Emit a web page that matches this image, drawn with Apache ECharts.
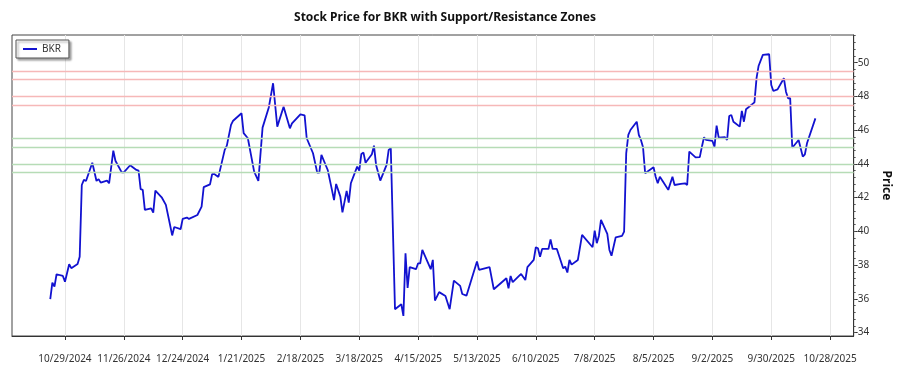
<!DOCTYPE html>
<html><head><meta charset="utf-8">
<script src="https://cdn.jsdelivr.net/npm/echarts@6/dist/echarts.min.js"></script>
<style>html,body{margin:0;padding:0;background:#fff}#c{width:900px;height:375px}</style>
</head><body><div id="c"></div>
<script>
const dates = [
'2024-10-22','2024-10-23','2024-10-24','2024-10-25','2024-10-28','2024-10-29','2024-10-31','2024-11-01','2024-11-04','2024-11-05',
'2024-11-06','2024-11-07','2024-11-08','2024-11-11','2024-11-13','2024-11-14','2024-11-15','2024-11-18','2024-11-19','2024-11-21',
'2024-11-22','2024-11-25','2024-11-26','2024-11-29','2024-12-02','2024-12-03','2024-12-04','2024-12-05','2024-12-06','2024-12-09',
'2024-12-10','2024-12-11','2024-12-14','2024-12-16','2024-12-18','2024-12-19','2024-12-20','2024-12-23','2024-12-24','2024-12-26',
'2024-12-27','2024-12-31','2025-01-02','2025-01-03','2025-01-06','2025-01-07','2025-01-08','2025-01-10','2025-01-13','2025-01-14',
'2025-01-16','2025-01-17','2025-01-21','2025-01-22','2025-01-24','2025-01-27','2025-01-29','2025-01-31','2025-02-03','2025-02-05',
'2025-02-07','2025-02-10','2025-02-13','2025-02-14','2025-02-18','2025-02-20','2025-02-21','2025-02-24','2025-02-26','2025-02-27',
'2025-02-28','2025-03-03','2025-03-05','2025-03-06','2025-03-07','2025-03-09','2025-03-10','2025-03-12','2025-03-13','2025-03-14',
'2025-03-17','2025-03-18','2025-03-19','2025-03-20','2025-03-21','2025-03-24','2025-03-25','2025-03-26','2025-03-28','2025-03-31',
'2025-04-01','2025-04-02','2025-04-04','2025-04-07','2025-04-08','2025-04-09','2025-04-10','2025-04-11','2025-04-14','2025-04-15',
'2025-04-16','2025-04-17','2025-04-21','2025-04-22','2025-04-23','2025-04-25','2025-04-28','2025-04-30','2025-05-02','2025-05-05',
'2025-05-06','2025-05-08','2025-05-13','2025-05-14','2025-05-19','2025-05-21','2025-05-27','2025-05-28','2025-05-29','2025-05-30',
'2025-06-03','2025-06-05','2025-06-06','2025-06-09','2025-06-10','2025-06-11','2025-06-12','2025-06-13','2025-06-16','2025-06-17',
'2025-06-18','2025-06-20','2025-06-23','2025-06-24','2025-06-25','2025-06-26','2025-06-27','2025-06-30','2025-07-02','2025-07-07',
'2025-07-08','2025-07-09','2025-07-10','2025-07-11','2025-07-14','2025-07-15','2025-07-16','2025-07-18','2025-07-21','2025-07-22',
'2025-07-23','2025-07-24','2025-07-25','2025-07-28','2025-07-29','2025-07-30','2025-07-31','2025-08-01','2025-08-05','2025-08-06',
'2025-08-07','2025-08-08','2025-08-10','2025-08-12','2025-08-14','2025-08-15','2025-08-18','2025-08-20','2025-08-21','2025-08-22',
'2025-08-25','2025-08-27','2025-08-28','2025-08-29','2025-08-30','2025-09-02','2025-09-03','2025-09-04','2025-09-05','2025-09-08',
'2025-09-09','2025-09-10','2025-09-11','2025-09-12','2025-09-15','2025-09-16','2025-09-17','2025-09-18','2025-09-22','2025-09-23',
'2025-09-24','2025-09-26','2025-09-29','2025-09-30','2025-10-01','2025-10-03','2025-10-06','2025-10-07','2025-10-08','2025-10-09',
'2025-10-10','2025-10-13','2025-10-14','2025-10-15','2025-10-16','2025-10-17','2025-10-21'
];
const prices = [
35.98,36.96,36.73,37.46,37.36,37.02,38.05,37.82,38.07,38.50,
42.75,43.05,42.99,44.07,42.99,43.10,42.89,43.01,42.85,44.79,
44.19,43.50,43.50,43.92,43.64,43.60,42.50,42.46,41.27,41.37,
41.11,42.42,42.02,41.57,40.38,39.76,40.26,40.13,40.74,40.82,
40.74,40.97,41.47,42.62,42.79,43.39,43.40,43.23,44.83,45.08,
46.31,46.56,47.00,45.82,45.52,43.54,42.99,46.15,47.36,48.78,
46.21,47.39,46.11,46.40,46.94,46.88,45.52,44.63,43.48,43.48,
44.53,43.64,42.46,41.86,42.81,42.06,41.13,42.40,41.70,42.85,
43.84,43.60,44.59,44.67,44.07,44.57,45.08,43.94,43.01,43.94,
44.83,44.93,35.39,35.68,34.99,38.70,36.65,37.88,37.76,38.11,
38.11,38.90,37.76,38.31,35.90,36.40,36.17,35.39,37.08,36.77,
36.29,36.19,38.21,37.72,37.88,36.57,37.22,36.63,37.36,36.99,
37.48,37.12,37.88,38.31,39.06,39.00,38.50,38.96,38.96,39.53,
38.96,38.96,37.82,37.91,37.56,38.31,38.03,38.31,39.79,39.06,
40.05,39.30,39.73,40.68,39.85,38.90,38.56,39.65,39.73,39.99,
44.63,45.72,46.01,46.50,45.72,45.42,44.98,43.45,43.80,43.24,
42.85,43.24,42.85,42.46,43.24,42.75,42.81,42.85,42.75,44.73,
44.39,44.40,45.02,45.58,45.42,45.36,45.02,46.27,45.56,45.58,
45.42,46.84,46.90,46.50,46.21,47.14,46.50,47.24,47.65,49.08,
49.82,50.46,50.50,48.68,48.32,48.42,49.08,48.28,47.89,47.89,
44.96,45.42,44.93,44.43,44.57,45.22,46.70
];
const tickDates = ['2024-10-29','2024-11-26','2024-12-24','2025-01-21','2025-02-18','2025-03-18','2025-04-15',
  '2025-05-13','2025-06-10','2025-07-08','2025-08-05','2025-09-02','2025-09-30','2025-10-28'];
const tickLabels = ['10/29/2024','11/26/2024','12/24/2024','1/21/2025','2/18/2025','3/18/2025','4/15/2025',
  '5/13/2025','6/10/2025','7/8/2025','8/5/2025','9/2/2025','9/30/2025','10/28/2025'];
const yTicks = [34,36,38,40,42,44,46,48,50];
const resistanceLevels = [47.5,48,49,49.5];
const supportLevels = [43.5,44,45,45.5];
const seriesName = 'BKR';

function toDay(s){const p=s.split('-').map(Number);return Date.UTC(p[0],p[1]-1,p[2])/86400000;}
const tickDays = tickDates.map(toDay);
const labelByDay = {}; tickDays.forEach((d,i)=>labelByDay[d]=tickLabels[i]);
const xMin = tickDays[0]-25.2, xMax = tickDays[tickDays.length-1]+11.2;
const yMin = 33.8, yMax = 51.64;
const minorTicks = []; for(let v=34; v<=51.6; v+=0.4) minorTicks.push(Math.round(v*10)/10);

const FONT = "'Noto Sans', sans-serif";
const chart = echarts.init(document.getElementById('c'), null, {renderer:'canvas'});
chart.setOption({
  animation:false,
  backgroundColor:'#fff',
  textStyle:{fontFamily:FONT},
  title:{text:'Stock Price for BKR with Support/Resistance Zones', left:440, textAlign:'center', top:7,
    textStyle:{fontSize:12,fontWeight:'bold',color:'#111',fontFamily:FONT}},
  legend:{data:[seriesName], left:16, top:40, itemWidth:14, itemHeight:2, icon:'rect', itemGap:4,
    padding:[4,8,4,7], borderColor:'#555', borderWidth:1, backgroundColor:'#fff',
    shadowColor:'rgba(0,0,0,0.35)', shadowBlur:2, shadowOffsetX:2, shadowOffsetY:2,
    textStyle:{fontSize:10,color:'#333'}},
  grid:{left:12, right:37, top:35, bottom:39, show:true, borderColor:'#444', borderWidth:1, containLabel:false},
  xAxis:{type:'value', min:xMin, max:xMax,
    axisLine:{show:true,lineStyle:{color:'#333'}},
    axisTick:{show:true, customValues:tickDays, length:4, lineStyle:{color:'#333'}},
    axisLabel:{customValues:tickDays, formatter:v=>labelByDay[Math.round(v)]||'', margin:18, fontSize:10, color:'#333'},
    splitLine:{show:true,lineStyle:{color:'#e6e6e6',width:1}}},
  yAxis:[{type:'value', position:'right', min:yMin, max:yMax,
    name:'Price', nameLocation:'middle', nameRotate:-90, nameGap:22,
    nameTextStyle:{fontSize:12,fontWeight:'bold',color:'#111'},
    axisLine:{show:true,lineStyle:{color:'#333'}},
    axisTick:{show:true, customValues:yTicks, length:4, lineStyle:{color:'#333'}},
    axisLabel:{customValues:yTicks, margin:4, fontSize:10, color:'#333'},
    splitLine:{show:false}},
   {type:'value', position:'right', min:yMin, max:yMax,
    axisLine:{show:false},
    axisTick:{show:true, customValues:minorTicks, length:2, lineStyle:{color:'#555'}},
    axisLabel:{show:false}, splitLine:{show:false}}],
  series:[
   {name:'zones', type:'line', data:[], z:1, silent:true,
    markLine:{silent:true, symbol:['none','none'], label:{show:false}, animation:false,
      data:[...resistanceLevels.map(v=>({yAxis:v,lineStyle:{color:'#f6b8b8',width:1.3,type:'solid',opacity:1}})),
            ...supportLevels.map(v=>({yAxis:v,lineStyle:{color:'#b6dcb6',width:1.3,type:'solid',opacity:1}}))]}},
   {name:seriesName, type:'line', z:3, showSymbol:false, symbol:'none',
    data:dates.map((d,i)=>[toDay(d),prices[i]]),
    lineStyle:{color:'#1212d0',width:1.8}, itemStyle:{color:'#1212d0'}}
  ]
});
</script></body></html>
